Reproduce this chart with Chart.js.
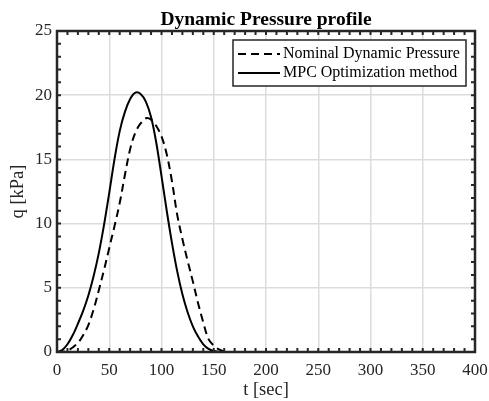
<!DOCTYPE html>
<html>
<head>
<meta charset="utf-8">
<script src="https://cdn.jsdelivr.net/npm/chart.js@4.4.1/dist/chart.umd.min.js"></script>
<style>
  body { margin: 0; background: #fff; }
</style>
</head>
<body>
<canvas id="myChart" width="489" height="401"></canvas>
<script>
// time axis (sec)
var tSec = [0, 5, 10, 15, 20, 25, 30, 35, 40, 45, 50, 55, 60, 65, 70, 75, 80, 85,
            90, 95, 100, 105, 110, 115, 120, 125, 130, 135, 140, 145, 150, 155, 160, 165, 170, 400];

// dynamic pressure (kPa)
var nominalQ = [0, 0.02, 0.1, 0.35, 0.7, 1.3, 2.1, 3.3, 4.8, 6.4, 8.1, 9.8, 11.6, 13.8, 15.8, 17.1, 17.8, 18.2,
                18.1, 17.6, 16.8, 15.4, 13.3, 10.7, 8.8, 7.1, 5.5, 3.8, 2.3, 1.0, 0.5, 0.2, 0.05, 0, 0, 0];
var mpcQ = [0, 0.15, 0.6, 1.3, 2.2, 3.2, 4.4, 5.9, 7.7, 9.9, 12.4, 15.0, 17.2, 18.7, 19.7, 20.2, 20.1, 19.5,
            18.3, 16.3, 13.7, 11.0, 8.5, 6.3, 4.5, 3.1, 2.0, 1.2, 0.6, 0.25, 0.08, 0.02, 0, 0, 0, 0];

var seriesLabels = ['Nominal Dynamic Pressure', 'MPC Optimization method'];
var chartTitle = 'Dynamic Pressure profile';

var serif = '"Liberation Serif", "Times New Roman", serif';
var ink = '#262626';

function toPoints(values) {
    return tSec.map(function (t, i) { return { x: t, y: values[i] }; });
}

// MATLAB style box, inward ticks, title and boxed legend
var matlabBox = {
    id: 'matlabBox',
    afterDraw: function (chart) {
        var ctx = chart.ctx;
        var a = chart.chartArea;
        var x = chart.scales.x;
        var y = chart.scales.y;
        ctx.save();

        // ticks on all four sides
        ctx.strokeStyle = ink;
        ctx.lineWidth = 2;
        ctx.beginPath();
        for (var tv = 0; tv <= 400; tv += 10) {
            var px = x.getPixelForValue(tv);
            ctx.moveTo(px, a.bottom); ctx.lineTo(px, a.bottom - 4);
            ctx.moveTo(px, a.top); ctx.lineTo(px, a.top + 4);
        }
        for (var qv = 0; qv <= 25; qv += 1) {
            var py = y.getPixelForValue(qv);
            ctx.moveTo(a.left, py); ctx.lineTo(a.left + 4, py);
            ctx.moveTo(a.right, py); ctx.lineTo(a.right - 4, py);
        }
        ctx.stroke();

        ctx.lineWidth = 2.5;
        ctx.strokeRect(a.left, a.top, a.right - a.left, a.bottom - a.top);

        // title
        ctx.fillStyle = '#000';
        ctx.font = 'bold 19.5px ' + serif;
        ctx.textAlign = 'center';
        ctx.textBaseline = 'alphabetic';
        ctx.fillText(chartTitle, (a.left + a.right) / 2, 25);

        // legend
        var lx = 233, ly = 40, lw = 233, lh = 46;
        ctx.fillStyle = '#fff';
        ctx.fillRect(lx, ly, lw, lh);
        ctx.strokeStyle = ink;
        ctx.lineWidth = 1.5;
        ctx.strokeRect(lx, ly, lw, lh);

        ctx.font = '16px ' + serif;
        ctx.textAlign = 'left';
        ctx.textBaseline = 'middle';
        chart.data.datasets.forEach(function (ds, i) {
            var rowY = ly + 14 + i * 19;
            ctx.strokeStyle = ds.borderColor;
            ctx.lineWidth = ds.borderWidth;
            ctx.setLineDash(ds.borderDash || []);
            ctx.beginPath();
            ctx.moveTo(lx + 5, rowY);
            ctx.lineTo(lx + 47, rowY);
            ctx.stroke();
            ctx.setLineDash([]);
            ctx.fillStyle = '#000';
            ctx.fillText(ds.label, lx + 50, rowY);
        });

        ctx.restore();
    }
};

var ctx = document.getElementById('myChart').getContext('2d');

var chart = new Chart(ctx, {
    type: 'line',
    data: {
        datasets: [{
            label: seriesLabels[0],
            data: toPoints(nominalQ),
            borderColor: '#000',
            borderWidth: 2,
            borderDash: [8, 5],
            pointRadius: 0,
            tension: 0.35,
            fill: false
        }, {
            label: seriesLabels[1],
            data: toPoints(mpcQ),
            borderColor: '#000',
            borderWidth: 2,
            pointRadius: 0,
            tension: 0.35,
            fill: false
        }]
    },
    options: {
        responsive: false,
        animation: false,
        devicePixelRatio: 1,
        layout: { padding: { top: 31, right: 0, left: 0, bottom: 0 } },
        plugins: {
            legend: { display: false },
            title: { display: false },
            tooltip: { enabled: false }
        },
        scales: {
            x: {
                type: 'linear',
                min: 0,
                max: 400,
                ticks: { stepSize: 50, color: ink, font: { family: serif, size: 17 }, padding: 8, maxRotation: 0 },
                grid: { color: '#dcdcdc', lineWidth: 1.5, drawTicks: false },
                border: { display: false },
                title: { display: true, text: 't [sec]', color: ink, font: { family: serif, size: 18.5 }, padding: { top: 0, bottom: 0 } },
                afterFit: function (scale) {
                    scale.height = 49;
                    scale.paddingRight = 14;
                    scale.paddingLeft = 0;
                }
            },
            y: {
                min: 0,
                max: 25,
                ticks: { stepSize: 5, color: ink, font: { family: serif, size: 17 }, padding: 5 },
                grid: { color: '#dcdcdc', lineWidth: 1.5, drawTicks: false },
                border: { display: false },
                title: { display: true, text: 'q [kPa]', color: ink, font: { family: serif, size: 18.5 }, padding: { top: 7, bottom: 4 } },
                afterFit: function (scale) { scale.width = 57; }
            }
        }
    },
    plugins: [matlabBox]
});
</script>
</body>
</html>
